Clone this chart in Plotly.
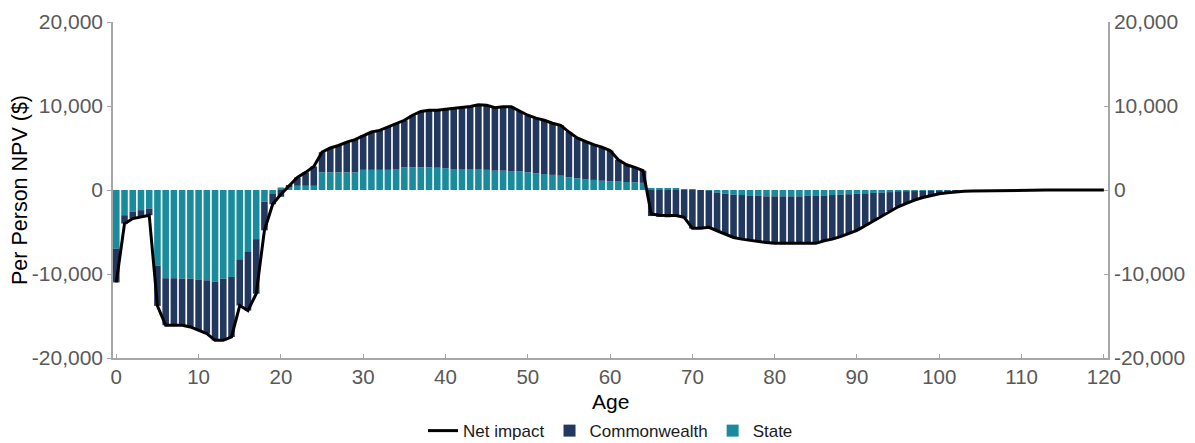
import plotly.graph_objects as go

ages = list(range(0, 121))

state = [
    -7000, -3000, -2600, -2400, -2200, -9000, -10500, -10500, -10550, -10550,
    -10650, -10750, -10900, -10550, -10350, -8250, -7300, -5850, -1400, -400,
    300, 400, 500, 500, 500, 2100, 2100, 2100, 2100, 2100,
    2400, 2400, 2400, 2400, 2500, 2700, 2700, 2700, 2700, 2650,
    2600, 2500, 2500, 2500, 2500, 2400, 2300, 2300, 2250, 2200,
    2100, 2000, 1900, 1800, 1700, 1500, 1400, 1300, 1200, 1100,
    1050, 1000, 950, 900, 850, 250, 200, 200, 150, 100,
    50, 0, -100, -300, -450, -550, -600, -650, -700, -750,
    -750, -750, -750, -750, -700, -700, -650, -600, -550, -500,
    -450, -400, -350, -300, -250, -200, -180, -150, -120, -100,
    -80, -60, -40, -30, -20, -15, -10, -10, 0, 0,
    0, 0, 0, 0, 0, 0, 0, 0, 0, 0, 0,
]

commonwealth = [
    -4000, -1000, -800, -800, -800, -4800, -5600, -5600, -5550, -5750,
    -6050, -6350, -7000, -7350, -7150, -5500, -7050, -6500, -3400, -1300,
    -800, 100, 1000, 1600, 2300, 2400, 2900, 3200, 3600, 3900,
    4100, 4500, 4700, 5100, 5400, 5600, 6200, 6650, 6800, 6850,
    7000, 7200, 7300, 7450, 7650, 7700, 7500, 7600, 7650, 7200,
    6800, 6550, 6400, 6150, 6000, 5400, 4800, 4500, 4200, 4000,
    3650, 2600, 2050, 1800, 1450, -3100, -3200, -3250, -3200, -3350,
    -4600, -4550, -4350, -4550, -4800, -5100, -5250, -5350, -5450, -5500,
    -5600, -5600, -5600, -5600, -5700, -5650, -5400, -5250, -5000, -4650,
    -4350, -3850, -3350, -2800, -2250, -1800, -1420, -1050, -780, -550,
    -370, -260, -180, -130, -100, -85, -80, -70, -30, 0,
    0, 0, 0, 0, 0, 0, 0, 0, 0, 0, 0,
]

net_impact = [
    -11000, -4000, -3400, -3200, -3000, -13800, -16100, -16100, -16100, -16300,
    -16700, -17100, -17900, -17900, -17500, -13750, -14350, -12350, -4800, -1700,
    -500, 500, 1500, 2100, 2800, 4500, 5000, 5300, 5700, 6000,
    6500, 6900, 7100, 7500, 7900, 8300, 8900, 9350, 9500, 9500,
    9600, 9700, 9800, 9950, 10150, 10100, 9800, 9900, 9900, 9400,
    8900, 8550, 8300, 7950, 7700, 6900, 6200, 5800, 5400, 5100,
    4700, 3600, 3000, 2700, 2300, -2850, -3000, -3050, -3050, -3250,
    -4550, -4550, -4450, -4850, -5250, -5650, -5850, -6000, -6150, -6250,
    -6350, -6350, -6350, -6350, -6400, -6350, -6050, -5850, -5550, -5150,
    -4800, -4250, -3700, -3100, -2500, -2000, -1600, -1200, -900, -650,
    -450, -320, -220, -160, -120, -100, -90, -80, -30, 0,
    0, 0, 0, 0, 0, 0, 0, 0, 0, 0, 0,
]

x_tick_vals = [0, 10, 20, 30, 40, 50, 60, 70, 80, 90, 100, 110, 120]
y_tick_vals = [-20000, -10000, 0, 10000, 20000]
y_tick_text = ["-20,000", "-10,000", "0", "10,000", "20,000"]

NAVY = "#22385E"
TEAL = "#1A8B9D"
FONT = "Liberation Sans, Arial, sans-serif"
TICK_COLOR = "#595959"
AXIS_COLOR = "#A6A6A6"

fig = go.Figure()
fig.add_trace(go.Bar(x=ages, y=state, name="State", marker=dict(color=TEAL, line=dict(width=0)),
                     legendrank=3))
fig.add_trace(go.Bar(x=ages, y=commonwealth, name="Commonwealth",
                     marker=dict(color=NAVY, line=dict(width=0)), legendrank=2))
fig.add_trace(go.Scatter(x=ages, y=net_impact, name="Net impact", mode="lines",
                         line=dict(color="black", width=3), legendrank=1))
fig.add_trace(go.Scatter(x=[0], y=[0], yaxis="y2", mode="markers",
                         marker=dict(opacity=0), showlegend=False, hoverinfo="skip"))

fig.update_layout(
    width=1195, height=443,
    margin=dict(l=105, r=95, t=14, b=93),
    paper_bgcolor="white", plot_bgcolor="white",
    barmode="relative", bargap=0.2,
    font=dict(family=FONT, size=20, color="black"),
    showlegend=True,
    legend=dict(orientation="h", x=0.5, xanchor="center", yref="container",
                y=0.045, yanchor="middle",
                font=dict(size=17, color="#1a1a1a"), traceorder="normal",
                itemwidth=30, tracegroupgap=0),
    xaxis=dict(range=[-0.4, 120.5], tickvals=x_tick_vals, ticks="inside", ticklen=4,
               tickcolor=AXIS_COLOR, showline=True, linecolor=AXIS_COLOR, linewidth=1.5,
               showgrid=False, zeroline=False, tickfont=dict(size=20.5, color=TICK_COLOR),
               automargin=False),
    yaxis=dict(range=[-20000, 20000], tickvals=y_tick_vals, ticktext=y_tick_text,
               ticks="outside", ticklen=4, tickcolor=AXIS_COLOR, showline=True,
               linecolor=AXIS_COLOR, linewidth=1.5, showgrid=False, zeroline=False,
               tickfont=dict(size=21, color=TICK_COLOR), automargin=False,
               title=dict(text="Per Person NPV ($)", font=dict(size=21.5, color="black"))),
    yaxis2=dict(range=[-20000, 20000], overlaying="y", side="right", tickvals=y_tick_vals,
                ticktext=y_tick_text, ticks="inside", ticklen=4, tickcolor=AXIS_COLOR,
                showline=True, linecolor=AXIS_COLOR, linewidth=1.5, showgrid=False,
                zeroline=False, automargin=False, tickfont=dict(size=21, color=TICK_COLOR)),
    annotations=[dict(text="Age", xref="paper", yref="paper", x=0.5, y=-0.13,
                      xanchor="center", yanchor="middle", showarrow=False, borderpad=0,
                      font=dict(size=21, color="black"))],
)

fig.write_html("out.html")
